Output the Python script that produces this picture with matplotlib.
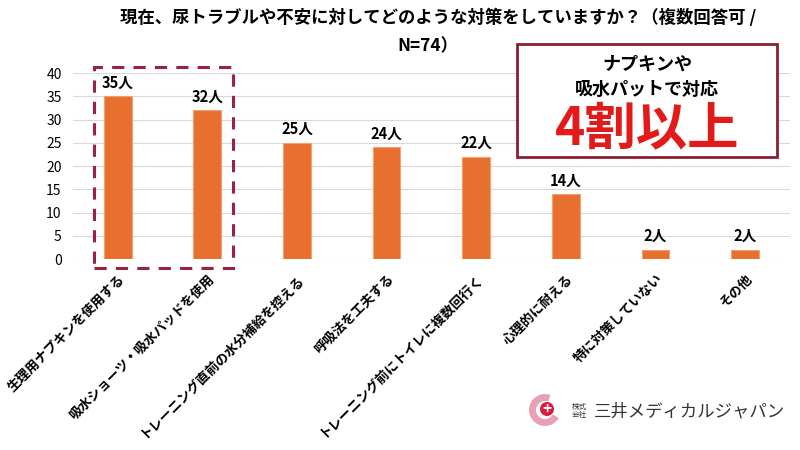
import matplotlib.pyplot as plt
from matplotlib.patches import Rectangle, Circle, Wedge

plt.rcParams['font.family'] = ['Noto Sans CJK JP', 'DejaVu Sans']

categories = ['生理用ナプキンを使用する', '吸水ショーツ・吸水パッドを使用', 'トレーニング直前の水分補給を控える',
              '呼吸法を工夫する', 'トレーニング前にトイレに複数回行く', '心理的に耐える',
              '特に対策していない', 'その他']
counts = [35, 32, 25, 24, 22, 14, 2, 2]
yticks = [0, 5, 10, 15, 20, 25, 30, 35, 40]

fig = plt.figure(figsize=(8, 4.5), dpi=100)
ax = fig.add_axes([0.091, 0.4244, 0.8965, 0.4133])

x = range(len(categories))
ax.bar(x, counts, width=0.31, color='#E8702E', edgecolor='#F2A070', linewidth=0.8, zorder=3)
for i, v in enumerate(counts):
    ax.text(i, v + 1.2, f'{v}人', ha='center', va='bottom', fontsize=10.5, fontweight='bold')

ax.set_xlim(-0.5, len(categories) - 0.5)
ax.set_ylim(0, 40)
ax.set_yticks(yticks)
ax.tick_params(axis='y', length=0, labelsize=10, pad=8)
ax.tick_params(axis='x', length=0, pad=9)
ax.set_xticks(list(x))
ax.set_xticklabels(categories, rotation=45, ha='right', rotation_mode='anchor',
                   fontsize=9.5, fontweight='bold')
ax.grid(axis='y', color='#D9D9D9', linewidth=0.8, zorder=0)
for s in ax.spines.values():
    s.set_visible(False)

# dashed highlight around the first two bars
fig.patches.append(Rectangle((94 / 800, 1 - 268 / 450), 139 / 800, 201 / 450,
                             transform=fig.transFigure, fill=False, edgecolor='#9B2342',
                             linestyle=(0, (4, 3)), linewidth=2.2))

fig.text(0.548, 0.96, '現在、尿トラブルや不安に対してどのような対策をしていますか？（複数回答可 /',
         ha='center', va='center', fontsize=12.5, fontweight='bold')
fig.text(0.535, 0.898, 'N=74）', ha='center', va='center', fontsize=12.5, fontweight='bold')

# callout box
fig.patches.append(Rectangle((517 / 800, 1 - 157 / 450), 260 / 800, 113 / 450,
                             transform=fig.transFigure, facecolor='white', edgecolor='#8B1E33',
                             linewidth=2, zorder=5))
fig.text(647 / 800, 1 - 64 / 450, 'ナプキンや', ha='center', va='center', fontsize=13,
         fontweight='bold', zorder=6)
fig.text(647 / 800, 1 - 89 / 450, '吸水パットで対応', ha='center', va='center', fontsize=13,
         fontweight='bold', zorder=6)
fig.text(647 / 800, 1 - 129 / 450, '4割以上', ha='center', va='center', fontsize=37,
         fontweight='bold', color='#E21A1A', zorder=6)

# logo
fig.patches.append(Wedge((545, 40), 16, 70, 330, width=7, transform=None,
                         facecolor='#E8A0B4', edgecolor='none'))
fig.patches.append(Circle((547, 41), 7, transform=None, facecolor='#D81E3C', edgecolor='none'))
fig.text(547 / 800, 1 - 409 / 450, '+', ha='center', va='center', fontsize=11,
         color='white', fontweight='bold')
fig.text(572 / 800, 1 - 411 / 450, '株式\n会社', ha='left', va='center', fontsize=5.5,
         linespacing=1.0, color='#333333')
fig.text(594 / 800, 1 - 411 / 450, '三井メディカルジャパン', ha='left', va='center', fontsize=12.5,
         color='#333333')

fig.savefig('out.png', dpi=100)
